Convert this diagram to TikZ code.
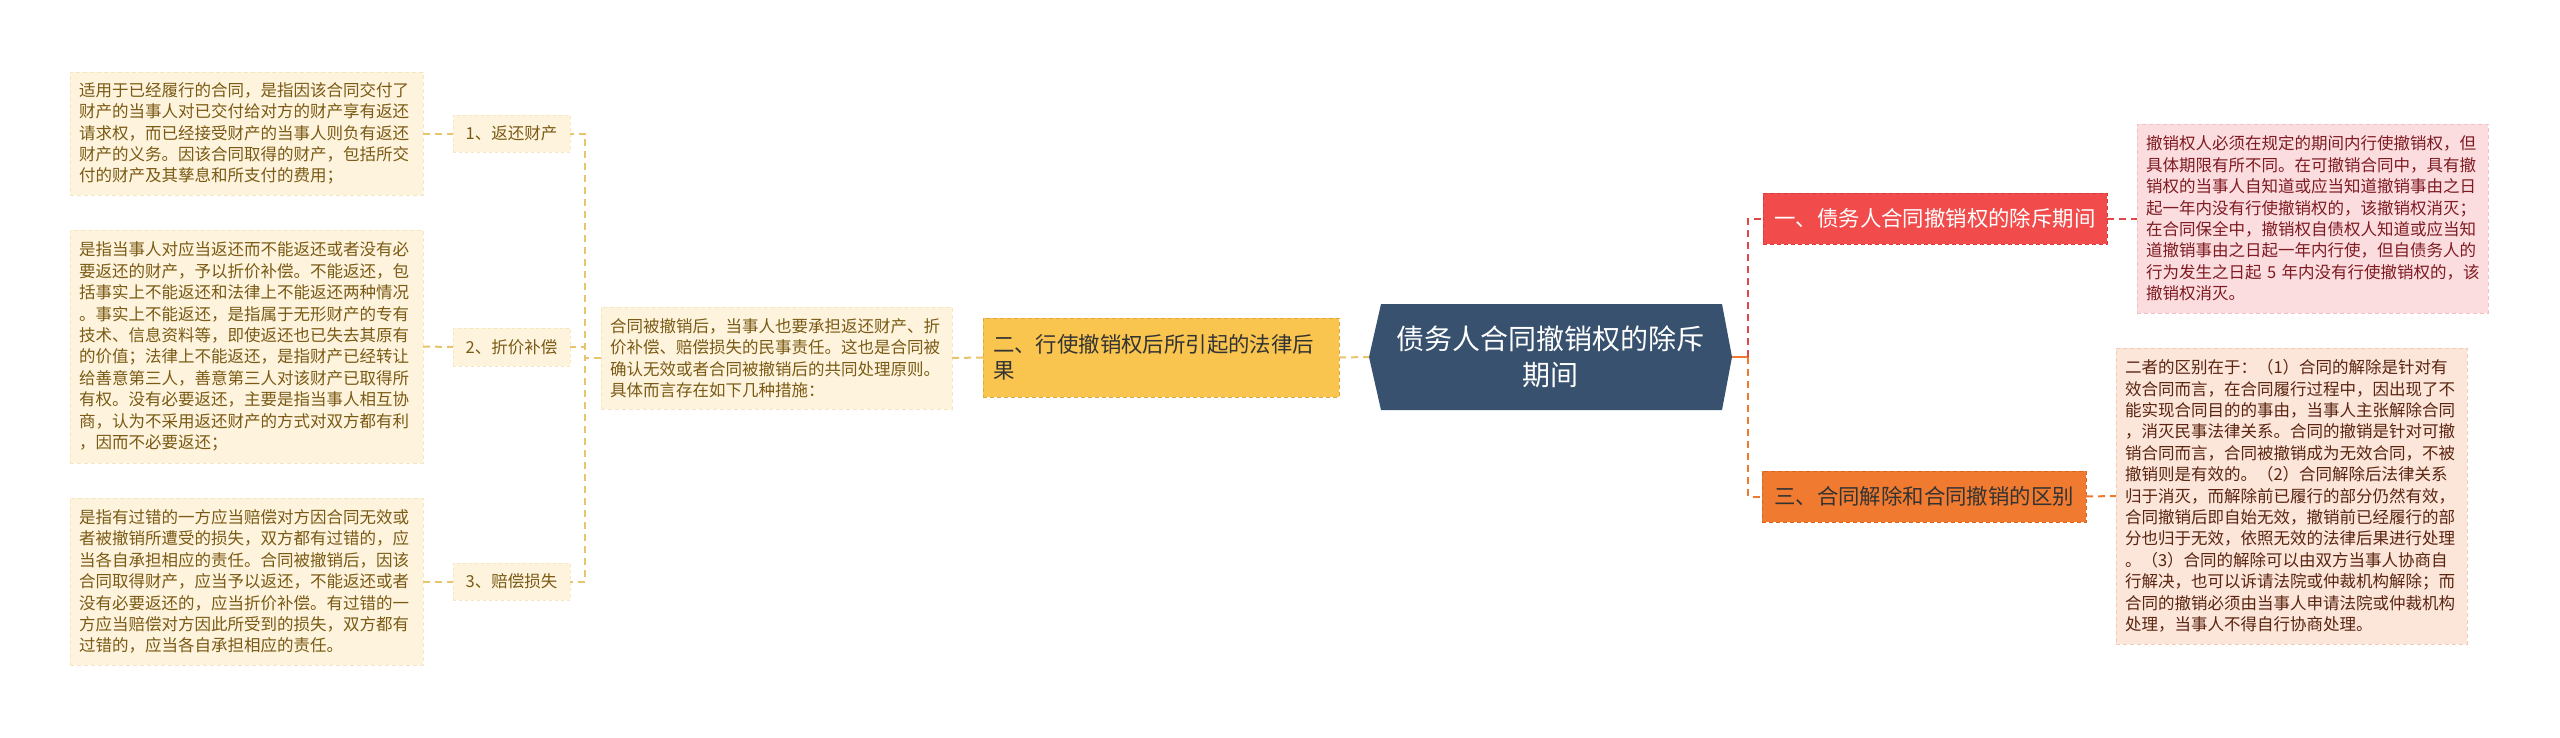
\documentclass[tikz,border=0pt]{standalone}
\usepackage{fontspec}
\setmainfont{Noto Sans CJK SC}
\definecolor{leaffill}{HTML}{FEF4DE}
\definecolor{leafborder}{HTML}{F6E6C0}
\definecolor{leaftext}{HTML}{7A5A14}
\definecolor{goldline}{HTML}{EAC46C}
\definecolor{twofill}{HTML}{F9C54F}
\definecolor{twoborder}{HTML}{DFA73C}
\definecolor{darktext}{HTML}{333333}
\definecolor{rootfill}{HTML}{37516E}
\definecolor{onefill}{HTML}{F24B4B}
\definecolor{oneborder}{HTML}{D93A3A}
\definecolor{threefill}{HTML}{F07A2F}
\definecolor{threeborder}{HTML}{D9661F}
\definecolor{redline}{HTML}{E04848}
\definecolor{orangeline}{HTML}{EE7A30}
\definecolor{pinkfill}{HTML}{FCDDDF}
\definecolor{pinkborder}{HTML}{F5BEC1}
\definecolor{pinktext}{HTML}{7E1B22}
\definecolor{peachfill}{HTML}{FCE6DA}
\definecolor{peachborder}{HTML}{F3CAB2}
\definecolor{peachtext}{HTML}{5A2410}
\begin{document}
\begin{tikzpicture}[x=1pt,y=-1pt,
  every node/.style={inner ysep=0pt, outer sep=0pt},
  boxbase/.style={anchor=north west, dashed, dash pattern=on 4pt off 3pt, line width=1pt, inner xsep=9pt, align=left},
  leaf/.style={boxbase, fill=leaffill, draw=leafborder, text=leaftext, font=\fontsize{16.5}{21.4}\selectfont},
  subnode/.style={anchor=north west, fill=leaffill, draw=leafborder, dashed, line width=1pt, text=leaftext, font=\fontsize{16.5}{20}\selectfont, inner xsep=0pt},
  pinkbox/.style={boxbase, fill=pinkfill, draw=pinkborder, text=pinktext, font=\fontsize{16.5}{21.4}\selectfont},
  peachbox/.style={boxbase, fill=peachfill, draw=peachborder, text=peachtext, font=\fontsize{16.5}{21.4}\selectfont},
  goldlink/.style={draw=goldline, dashed, dash pattern=on 7pt off 5pt, line width=2pt},
  redlink/.style={draw=redline, dashed, dash pattern=on 7pt off 5pt, line width=2pt},
  orangelink/.style={draw=orangeline, dashed, dash pattern=on 7pt off 5pt, line width=2pt}]
\useasboundingbox[fill=white] (0,0) rectangle (2560,737);

% leaves on the left
\node[leaf, minimum width=353pt, minimum height=123pt, text width=335pt] (la) at (70,72)
{适用于已经履行的合同，是指因该合同交付了\\财产的当事人对已交付给对方的财产享有返还\\请求权，而已经接受财产的当事人则负有返还\\财产的义务。因该合同取得的财产，包括所交\\付的财产及其孳息和所支付的费用；};
\node[leaf, minimum width=353pt, minimum height=233pt, text width=335pt] (lb) at (70,230)
{是指当事人对应当返还而不能返还或者没有必\\要返还的财产，予以折价补偿。不能返还，包\\括事实上不能返还和法律上不能返还两种情况\\。事实上不能返还，是指属于无形财产的专有\\技术、信息资料等，即使返还也已失去其原有\\的价值；法律上不能返还，是指财产已经转让\\给善意第三人，善意第三人对该财产已取得所\\有权。没有必要返还，主要是指当事人相互协\\商，认为不采用返还财产的方式对双方都有利\\，因而不必要返还；};
\node[leaf, minimum width=353pt, minimum height=167pt, text width=335pt] (lc) at (70,498)
{是指有过错的一方应当赔偿对方因合同无效或\\者被撤销所遭受的损失，双方都有过错的，应\\当各自承担相应的责任。合同被撤销后，因该\\合同取得财产，应当予以返还，不能返还或者\\没有必要返还的，应当折价补偿。有过错的一\\方应当赔偿对方因此所受到的损失，双方都有\\过错的，应当各自承担相应的责任。};

% sub nodes
\node[subnode, minimum width=117pt, minimum height=37pt] (s1) at (453,115) {1、返还财产};
\node[subnode, minimum width=117pt, minimum height=38pt] (s2) at (453,328) {2、折价补偿};
\node[subnode, minimum width=117pt, minimum height=37pt] (s3) at (453,563) {3、赔偿损失};

% middle text
\node[leaf, minimum width=351pt, minimum height=102pt, text width=333pt] (mid) at (601,307)
{合同被撤销后，当事人也要承担返还财产、折\\价补偿、赔偿损失的民事责任。这也是合同被\\确认无效或者合同被撤销后的共同处理原则。\\具体而言存在如下几种措施：};

% branch two
\node[boxbase, fill=twofill, draw=twoborder, text=darktext, font=\fontsize{21.4}{25.5}\selectfont, inner xsep=10pt,
  minimum width=356pt, minimum height=79pt, text width=336pt] (two) at (983,318)
{二、行使撤销权后所引起的法律后\\果};

% root
\fill[rootfill] (1381,304) -- (1722,304) -- (1732,357) -- (1722,410) -- (1381,410) -- (1369,357) -- cycle;
\node[minimum width=363pt, minimum height=106pt, inner xsep=0pt, text=white, align=center,
  font=\fontsize{28}{36}\selectfont] (root) at (1550.5,357) {债务人合同撤销权的除斥\\期间};

% branch one and three
\node[anchor=north west, fill=onefill, draw=oneborder, dashed, dash pattern=on 4pt off 3pt, line width=1pt,
  text=white, font=\fontsize{21.4}{25}\selectfont, minimum width=344pt, minimum height=51pt, inner xsep=0pt] (one) at (1763,193)
{一、债务人合同撤销权的除斥期间};
\node[anchor=north west, fill=threefill, draw=threeborder, dashed, dash pattern=on 4pt off 3pt, line width=1pt,
  text=darktext, font=\fontsize{21.4}{25}\selectfont, minimum width=324pt, minimum height=51pt, inner xsep=0pt] (three) at (1762,471)
{三、合同解除和合同撤销的区别};

% right leaves
\node[pinkbox, minimum width=351pt, minimum height=189pt, text width=333pt] (pink) at (2137,124)
{撤销权人必须在规定的期间内行使撤销权，但\\具体期限有所不同。在可撤销合同中，具有撤\\销权的当事人自知道或应当知道撤销事由之日\\起一年内没有行使撤销权的，该撤销权消灭；\\在合同保全中，撤销权自债权人知道或应当知\\道撤销事由之日起一年内行使，但自债务人的\\\mbox{行为发生之日起 5 年内没有行使撤销权的，该}\\撤销权消灭。};
\node[peachbox, minimum width=351pt, minimum height=296pt, text width=333pt] (peach) at (2116,348)
{二者的区别在于：（1）合同的解除是针对有\\效合同而言，在合同履行过程中，因出现了不\\能实现合同目的的事由，当事人主张解除合同\\，消灭民事法律关系。合同的撤销是针对可撤\\销合同而言，合同被撤销成为无效合同，不被\\撤销则是有效的。（2）合同解除后法律关系\\归于消灭，而解除前已履行的部分仍然有效，\\合同撤销后即自始无效，撤销前已经履行的部\\分也归于无效，依照无效的法律后果进行处理\\。（3）合同的解除可以由双方当事人协商自\\行解决，也可以诉请法院或仲裁机构解除；而\\合同的撤销必须由当事人申请法院或仲裁机构\\处理，当事人不得自行协商处理。};

% connectors left
\draw[goldlink] (la.east) -- (s1.west);
\draw[goldlink] (lb.east) -- (s2.west);
\draw[goldlink] (lc.east) -- (s3.west);
\draw[goldlink] (mid.west) -- ++(-16,0) |- (s1.east);
\draw[goldlink] (mid.west) -- ++(-16,0) |- (s2.east);
\draw[goldlink] (mid.west) -- ++(-16,0) |- (s3.east);
\draw[goldlink] (mid.east) -- (two.west);
\draw[goldlink] (two.east) -- (root.west);

% connectors right
\coordinate (rj) at (1748,357);
\draw[orangeline, line width=2.5pt] (root.east) -- (rj);
\draw[redlink] (rj) |- (one.west);
\draw[orangelink] (rj) |- (three.west);
\draw[redlink] (one.east) -- (pink.west);
\draw[orangelink] (three.east) -- (peach.west);
\end{tikzpicture}
\end{document}
